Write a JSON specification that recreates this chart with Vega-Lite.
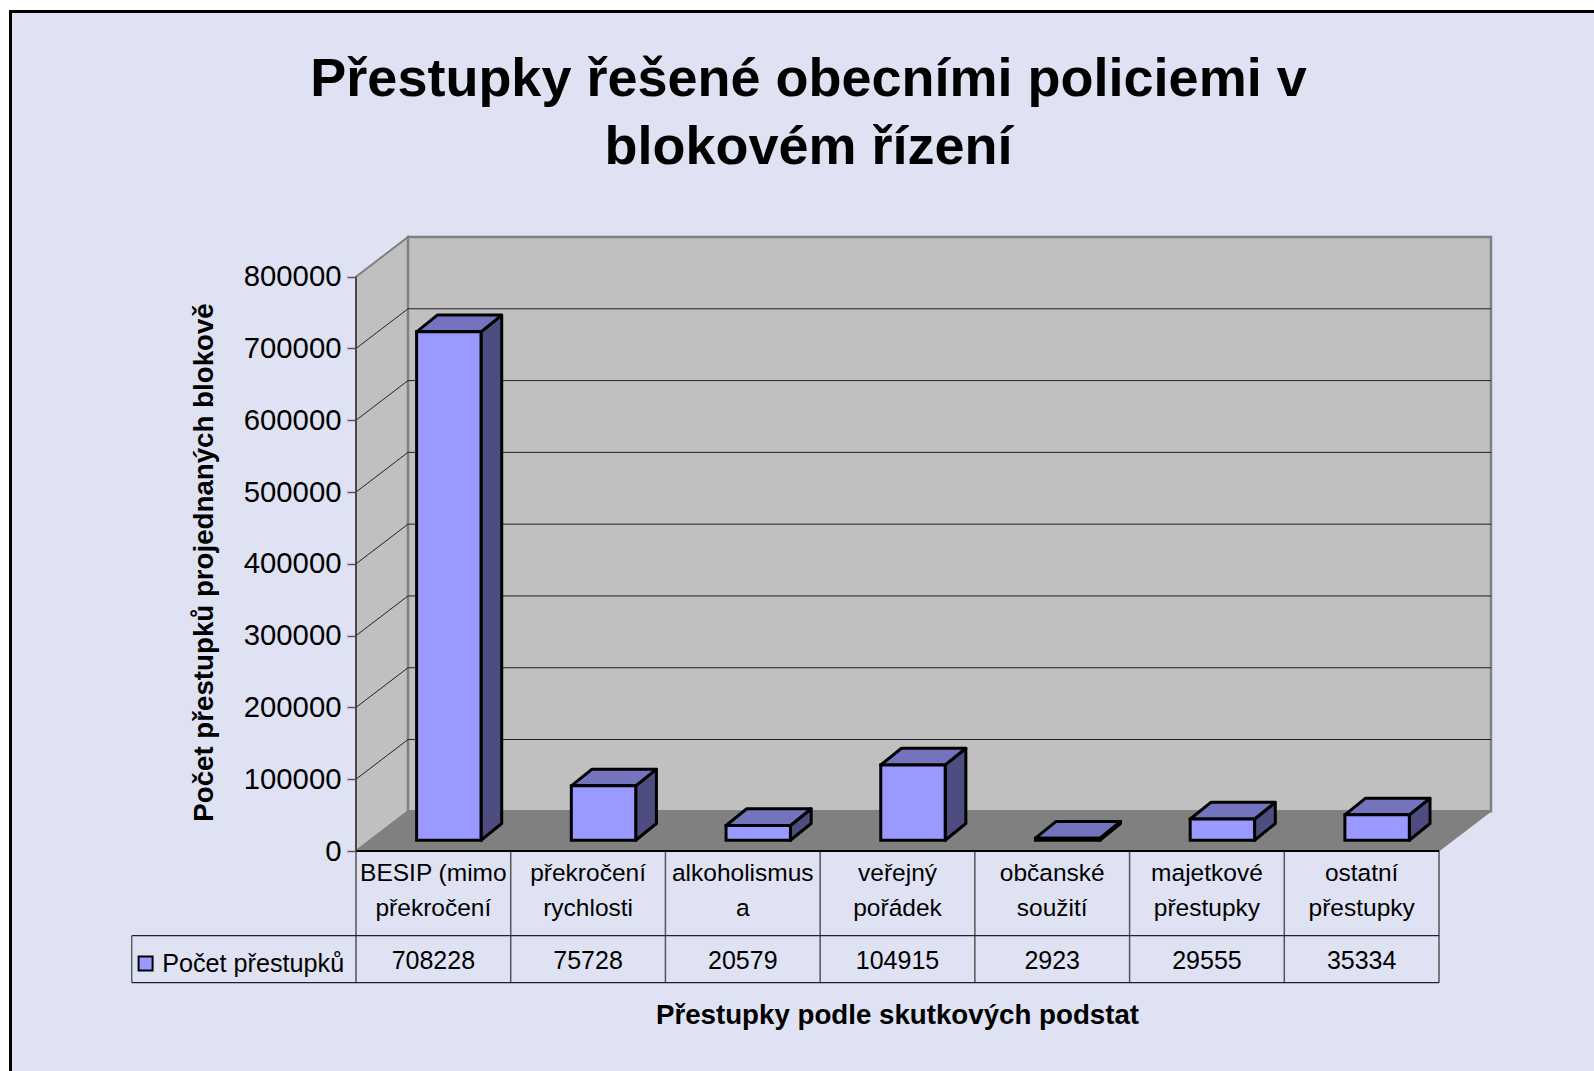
{
"$schema":"https://vega.github.io/schema/vega-lite/v6.json",
"width":1135,"height":614,
"autosize":{"type":"none"},
"padding":{"left":356,"top":237,"right":103,"bottom":220},
"background":"#ffffff",
"config":{"view":{"stroke":null},"font":"Liberation Sans"},
"title":{"text":["Přestupky řešené obecními policiemi v","blokovém řízení"],"font":"Liberation Sans","fontSize":54,"fontWeight":"bold","color":"#000000","lineHeight":68,"anchor":"middle","frame":"group","dx":-115,"offset":-165,"zindex":1},
"datasets":{
"ticks":[{"value":0},{"value":100000},{"value":200000},{"value":300000},{"value":400000},{"value":500000},{"value":600000},{"value":700000},{"value":800000}]
},
"data":{"values":[
{"kategorie":"BESIP (mimo překročení","popisek":"BESIP (mimo\npřekročení","pocet":708228},
{"kategorie":"překročení rychlosti","popisek":"překročení\nrychlosti","pocet":75728},
{"kategorie":"alkoholismus a","popisek":"alkoholismus\na","pocet":20579},
{"kategorie":"veřejný pořádek","popisek":"veřejný\npořádek","pocet":104915},
{"kategorie":"občanské soužití","popisek":"občanské\nsoužití","pocet":2923},
{"kategorie":"majetkové přestupky","popisek":"majetkové\npřestupky","pocet":29555},
{"kategorie":"ostatní přestupky","popisek":"ostatní\npřestupky","pocet":35334}
]},
"transform":[
{"window":[{"op":"row_number","as":"n"}]},
{"calculate":"datum.n-1","as":"i"},
{"calculate":"datum.i+0.3917","as":"l"},
{"calculate":"datum.i+0.808","as":"r"},
{"calculate":"15000","as":"base"},
{"calculate":"15000+datum.pocet","as":"top"},
{"calculate":"'Počet přestupků'","as":"rada"}
],
"encoding":{
"x":{"field":"x","type":"quantitative","scale":{"domain":[0,7.336],"nice":false,"zero":false},
 "axis":{"title":"Přestupky podle skutkových podstat","zindex":1,"labels":false,"ticks":false,"domain":false,"grid":false,"titleFont":"Liberation Sans","titleFontSize":27.7,"titleFontWeight":"bold","titleColor":"#000000","titleX":541,"titleY":150,"titleAnchor":"middle"}},
"y":{"field":"y","type":"quantitative","stack":null,"scale":{"domain":[0,855274],"nice":false,"zero":false},
 "axis":{"title":"Počet přestupků projednaných blokově","zindex":1,"values":[0,100000,200000,300000,400000,500000,600000,700000,800000],"format":"d","grid":false,"domain":false,"tickColor":"#555555","tickSize":9,"tickWidth":1.5,"labelPadding":6,"labelFont":"Liberation Sans","labelFontSize":29.3,"labelColor":"#000000","labelOverlap":false,"titleFont":"Liberation Sans","titleFontSize":27.7,"titleFontWeight":"bold","titleColor":"#000000","titleX":-138,"titleY":325,"titleAnchor":"middle"}}
},
"layer":[
{"data":{"values":[{"cast":"ramec"}]},
 "transform":[{"calculate":"-2.233","as":"x"},{"calculate":"8.3","as":"x2"},{"calculate":"1169300","as":"y"},{"calculate":"-360000","as":"y2"}],
 "mark":{"type":"rect","fill":"#DFE2F3","stroke":"#000000","strokeWidth":3},
 "encoding":{"x2":{"field":"x2"},"y2":{"field":"y2"}}},
{"data":{"values":[{"cast":"bocni stena"}]},
 "transform":[{"calculate":"[0,0.336]","as":"x"},{"calculate":"[0,55274]","as":"y"},{"calculate":"[800000,855274]","as":"y2"},{"flatten":["x","y","y2"]}],
 "mark":{"type":"area","orient":"vertical","fill":"#C0C0C0","stroke":"#808080","strokeWidth":2},
 "encoding":{"y2":{"field":"y2"}}},
{"data":{"values":[{"cast":"zadni stena"}]},
 "transform":[{"calculate":"0.336","as":"x"},{"calculate":"7.336","as":"x2"},{"calculate":"55274","as":"y"},{"calculate":"855274","as":"y2"}],
 "mark":{"type":"rect","fill":"#C0C0C0","stroke":"#808080","strokeWidth":2.5},
 "encoding":{"x2":{"field":"x2"},"y2":{"field":"y2"}}},
{"data":{"values":[{"cast":"podlaha"}]},
 "transform":[{"calculate":"[0,0.336,7,7.336]","as":"x"},{"calculate":"[0,0,0,55274]","as":"y"},{"calculate":"[0,55274,55274,55274]","as":"y2"},{"flatten":["x","y","y2"]}],
 "mark":{"type":"area","orient":"vertical","fill":"#808080","stroke":"#808080","strokeWidth":1},
 "encoding":{"y2":{"field":"y2"}}},
{"data":{"name":"ticks"},
 "transform":[{"filter":"datum.value>0 && datum.value<800000"},{"calculate":"0","as":"x"},{"calculate":"0.336","as":"x2"},{"calculate":"datum.value","as":"y"},{"calculate":"datum.value+55274","as":"y2"}],
 "mark":{"type":"rule","color":"#222222","strokeWidth":1},
 "encoding":{"x2":{"field":"x2"},"y2":{"field":"y2"}}},
{"data":{"name":"ticks"},
 "transform":[{"filter":"datum.value>0 && datum.value<800000"},{"calculate":"0.336","as":"x"},{"calculate":"7.336","as":"x2"},{"calculate":"datum.value+55274","as":"y"}],
 "mark":{"type":"rule","color":"#222222","strokeWidth":1},
 "encoding":{"x2":{"field":"x2"}}},
{"transform":[
 {"calculate":"[datum.r,datum.r+0.1338]","as":"x"},
 {"calculate":"[datum.base,datum.base+23250]","as":"y"},
 {"calculate":"[datum.top,datum.top+23250]","as":"y2"},
 {"flatten":["x","y","y2"]}],
 "mark":{"type":"area","orient":"vertical","fill":"#4D4D80","stroke":"#000000","strokeWidth":3,"strokeJoin":"round"},
 "encoding":{"y2":{"field":"y2"},"detail":{"field":"kategorie"}}},
{"transform":[
 {"calculate":"[datum.l,datum.l+0.1338,datum.r,datum.r+0.1338]","as":"x"},
 {"calculate":"[datum.top,datum.top,datum.top,datum.top+23250]","as":"y"},
 {"calculate":"[datum.top,datum.top+23250,datum.top+23250,datum.top+23250]","as":"y2"},
 {"flatten":["x","y","y2"]}],
 "mark":{"type":"area","orient":"vertical","fill":"#7474BE","stroke":"#000000","strokeWidth":3,"strokeJoin":"round"},
 "encoding":{"y2":{"field":"y2"},"detail":{"field":"kategorie"}}},
{"transform":[{"calculate":"datum.l","as":"x"},{"calculate":"datum.r","as":"x2"},{"calculate":"datum.base","as":"y"},{"calculate":"datum.top","as":"y2"}],
 "mark":{"type":"rect","stroke":"#000000","strokeWidth":3},
 "encoding":{"x2":{"field":"x2"},"y2":{"field":"y2"},
  "fill":{"field":"rada","type":"nominal","scale":{"range":["#9999FF"]},
   "legend":{"title":null,"orient":"none","legendX":-223,"legendY":714,"padding":0,"symbolType":"square","symbolSize":196,"symbolStrokeColor":"#000000","symbolStrokeWidth":2,"symbolFillColor":"#9999FF","labelFont":"Liberation Sans","labelFontSize":25.2,"labelColor":"#000000","labelOffset":4,"labelLimit":300}}}},
{"data":{"name":"ticks"},
 "transform":[{"filter":"datum.value==0"},{"calculate":"[0,1,2,3,4,5,6,7]","as":"x"},{"flatten":["x"]},{"calculate":"0","as":"y"},{"calculate":"-183370","as":"y2"}],
 "mark":{"type":"rule","color":"#555555","strokeWidth":1.5},
 "encoding":{"y2":{"field":"y2"}}},
{"data":{"values":[{"cast":"levy okraj"}]},
 "transform":[{"calculate":"-1.449","as":"x"},{"calculate":"-117930","as":"y"},{"calculate":"-183370","as":"y2"}],
 "mark":{"type":"rule","color":"#222222","strokeWidth":1},
 "encoding":{"y2":{"field":"y2"}}},
{"data":{"values":[{"cast":"horni"},{"cast":"dolni"}]},
 "transform":[{"calculate":"-1.449","as":"x"},{"calculate":"7","as":"x2"},{"calculate":"datum.cast=='horni'?-117930:-183370","as":"y"}],
 "mark":{"type":"rule","color":"#222222","strokeWidth":1.2},
 "encoding":{"x2":{"field":"x2"}}},
{"data":{"name":"ticks"},
 "transform":[{"filter":"datum.value==0"},{"calculate":"0","as":"x"},{"calculate":"7","as":"x2"},{"calculate":"0","as":"y"}],
 "mark":{"type":"rule","color":"#000000","strokeWidth":2},
 "encoding":{"x2":{"field":"x2"}}},
{"data":{"name":"ticks"},
 "transform":[{"filter":"datum.value==0"},{"calculate":"0","as":"x"},{"calculate":"0","as":"y"},{"calculate":"800000","as":"y2"}],
 "mark":{"type":"rule","color":"#222222","strokeWidth":1.2},
 "encoding":{"y2":{"field":"y2"}}},
{"transform":[{"calculate":"datum.i+0.5","as":"x"},{"calculate":"-31600","as":"y"}],
 "mark":{"type":"text","font":"Liberation Sans","fontSize":24.5,"lineHeight":35,"lineBreak":"\n","align":"center","baseline":"middle","color":"#000000"},
 "encoding":{"text":{"field":"popisek"}}},
{"transform":[{"calculate":"datum.i+0.5","as":"x"},{"calculate":"-152730","as":"y"}],
 "mark":{"type":"text","font":"Liberation Sans","fontSize":25,"align":"center","baseline":"middle","color":"#000000"},
 "encoding":{"text":{"field":"pocet","type":"quantitative","format":"d"}}}
]
}
